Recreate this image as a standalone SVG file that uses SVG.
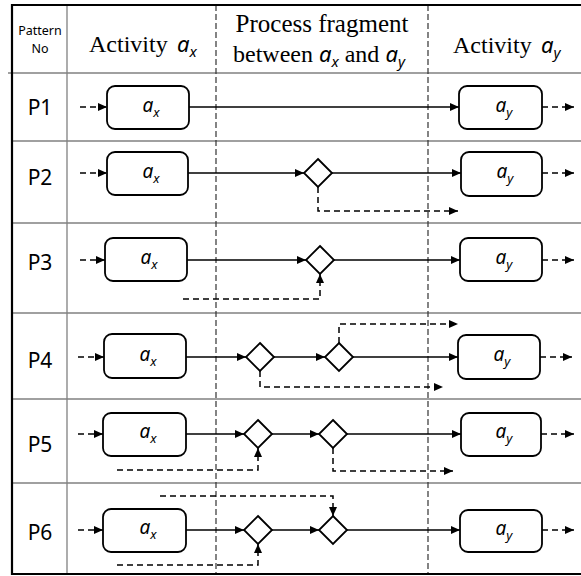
<svg xmlns="http://www.w3.org/2000/svg" width="581" height="576" viewBox="0 0 581 576">
<style>
.grid{stroke:#808080;stroke-width:1.3;fill:none}
.border{stroke:#000;stroke-width:2.2;fill:none}
.lane{stroke:#333;stroke-width:1.2;stroke-dasharray:6,3;fill:none}
.box{fill:#fff;stroke:#000;stroke-width:1.8}
.gw{fill:#fff;stroke:#000;stroke-width:1.8}
.flow{stroke:#000;stroke-width:1.5;fill:none}
.dflow{stroke:#000;stroke-width:1.5;fill:none;stroke-dasharray:6,4}
.ser{font-family:"Liberation Serif",serif;fill:#000}
.it{font-family:"Noto Sans","Open Sans",sans-serif;font-style:italic;fill:#000}
.lbl{font-family:"Noto Sans","Open Sans",sans-serif;fill:#000}
</style>
<defs>
<marker id="ah" markerUnits="userSpaceOnUse" markerWidth="9" markerHeight="8" refX="9" refY="4" orient="auto">
<path d="M0,0 L9,4 L0,8 z" fill="#000"/>
</marker>
</defs>
<rect width="581" height="576" fill="#fff"/>

<g id="table">
<line class="grid" x1="67" y1="5" x2="67" y2="574"/>
<line class="grid" x1="8" y1="73" x2="581" y2="73"/>
<line class="grid" x1="12" y1="141" x2="581" y2="141"/>
<line class="grid" x1="12" y1="223" x2="581" y2="223"/>
<line class="grid" x1="12" y1="313" x2="581" y2="313"/>
<line class="grid" x1="12" y1="399" x2="581" y2="399"/>
<line class="grid" x1="12" y1="483" x2="581" y2="483"/>
<line class="lane" x1="216" y1="5" x2="216" y2="574"/>
<line class="lane" x1="428" y1="5" x2="428" y2="574"/>
<line class="border" x1="12" y1="5" x2="581" y2="5"/>
<line class="border" x1="12" y1="574" x2="581" y2="574"/>
<line class="border" x1="12" y1="4" x2="12" y2="575"/>
</g>

<g id="header">
<text class="lbl" x="40" y="35" font-size="12.5" text-anchor="middle">Pattern</text>
<text class="lbl" x="40" y="53" font-size="12.5" text-anchor="middle">No</text>
<text class="ser" x="89" y="52" font-size="24">Activity</text>
<text class="it" x="177" y="52" font-size="22">a<tspan font-size="15" dy="5">x</tspan></text>
<text class="ser" x="322" y="32" font-size="25" text-anchor="middle">Process fragment</text>
<text x="233" y="62" font-size="24"><tspan class="ser">between </tspan><tspan class="it" font-size="22">a</tspan><tspan class="it" font-size="15" dy="5">x</tspan><tspan class="ser" dy="-5"> and </tspan><tspan class="it" font-size="22">a</tspan><tspan class="it" font-size="15" dy="5">y</tspan></text>
<text class="ser" x="453" y="53" font-size="24">Activity</text>
<text class="it" x="541" y="53" font-size="22">a<tspan font-size="15" dy="5">y</tspan></text>
</g>

<g id="row-labels" class="lbl" font-size="21" text-anchor="middle">
<text x="40" y="115">P1</text>
<text x="40" y="185">P2</text>
<text x="40" y="270">P3</text>
<text x="40" y="368">P4</text>
<text x="40" y="452">P5</text>
<text x="40" y="540">P6</text>
</g>

<g id="connectors">
<!-- P1 -->
<line class="dflow" x1="80" y1="107" x2="107" y2="107" marker-end="url(#ah)"/>
<line class="flow" x1="189" y1="107" x2="459" y2="107" marker-end="url(#ah)"/>
<line class="dflow" x1="542" y1="107" x2="574" y2="107" marker-end="url(#ah)"/>
<!-- P2 -->
<line class="dflow" x1="80" y1="173" x2="107" y2="173" marker-end="url(#ah)"/>
<line class="flow" x1="188" y1="173" x2="304" y2="173" marker-end="url(#ah)"/>
<line class="flow" x1="332" y1="173" x2="461" y2="173" marker-end="url(#ah)"/>
<polyline class="dflow" points="318,187 318,211 458,211" marker-end="url(#ah)"/>
<line class="dflow" x1="542" y1="173" x2="574" y2="173" marker-end="url(#ah)"/>
<!-- P3 -->
<line class="dflow" x1="80" y1="260" x2="105" y2="260" marker-end="url(#ah)"/>
<line class="flow" x1="187" y1="260" x2="306" y2="260" marker-end="url(#ah)"/>
<line class="flow" x1="334" y1="260" x2="460" y2="260" marker-end="url(#ah)"/>
<polyline class="dflow" points="183,299 320,299 320,274" marker-end="url(#ah)"/>
<line class="dflow" x1="542" y1="260" x2="574" y2="260" marker-end="url(#ah)"/>
<!-- P4 -->
<line class="dflow" x1="78" y1="357" x2="104" y2="357" marker-end="url(#ah)"/>
<line class="flow" x1="186" y1="357" x2="246" y2="357" marker-end="url(#ah)"/>
<line class="flow" x1="274" y1="357" x2="325" y2="357" marker-end="url(#ah)"/>
<line class="flow" x1="353" y1="357" x2="458" y2="357" marker-end="url(#ah)"/>
<polyline class="dflow" points="260,371 260,387 443,387" marker-end="url(#ah)"/>
<polyline class="dflow" points="339,343 339,324 458,324" marker-end="url(#ah)"/>
<line class="dflow" x1="540" y1="357" x2="572" y2="357" marker-end="url(#ah)"/>
<!-- P5 -->
<line class="dflow" x1="78" y1="434" x2="103" y2="434" marker-end="url(#ah)"/>
<line class="flow" x1="186" y1="434" x2="244" y2="434" marker-end="url(#ah)"/>
<line class="flow" x1="272" y1="434" x2="319" y2="434" marker-end="url(#ah)"/>
<line class="flow" x1="347" y1="434" x2="461" y2="434" marker-end="url(#ah)"/>
<polyline class="dflow" points="117,470 258,470 258,448" marker-end="url(#ah)"/>
<polyline class="dflow" points="333,448 333,471 453,471" marker-end="url(#ah)"/>
<line class="dflow" x1="541" y1="434" x2="574" y2="434" marker-end="url(#ah)"/>
<!-- P6 -->
<line class="dflow" x1="78" y1="530" x2="103" y2="530" marker-end="url(#ah)"/>
<line class="flow" x1="186" y1="530" x2="244" y2="530" marker-end="url(#ah)"/>
<line class="flow" x1="272" y1="530" x2="319" y2="530" marker-end="url(#ah)"/>
<line class="flow" x1="347" y1="530" x2="460" y2="530" marker-end="url(#ah)"/>
<polyline class="dflow" points="160,496 333,496 333,516" marker-end="url(#ah)"/>
<polyline class="dflow" points="117,565 258,565 258,544" marker-end="url(#ah)"/>
<line class="dflow" x1="542" y1="530" x2="574" y2="530" marker-end="url(#ah)"/>
</g>

<g id="p1-ax"><rect class="box" x="107" y="86" width="82" height="43" rx="8"/><text class="it" x="151" y="112" font-size="19" text-anchor="middle">a<tspan font-size="13" dy="5">x</tspan></text></g>
<g id="p1-ay"><rect class="box" x="459" y="86" width="83" height="43" rx="8"/><text class="it" x="504" y="112" font-size="19" text-anchor="middle">a<tspan font-size="13" dy="5">y</tspan></text></g>

<g id="p2-ax"><rect class="box" x="107" y="152" width="81" height="43" rx="8"/><text class="it" x="151" y="178" font-size="19" text-anchor="middle">a<tspan font-size="13" dy="5">x</tspan></text></g>
<g id="p2-gw"><polygon class="gw" points="318,159 332,173 318,187 304,173"/></g>
<g id="p2-ay"><rect class="box" x="461" y="152" width="81" height="44" rx="8"/><text class="it" x="505" y="178" font-size="19" text-anchor="middle">a<tspan font-size="13" dy="5">y</tspan></text></g>

<g id="p3-ax"><rect class="box" x="105" y="238" width="82" height="43" rx="8"/><text class="it" x="149" y="264" font-size="19" text-anchor="middle">a<tspan font-size="13" dy="5">x</tspan></text></g>
<g id="p3-gw"><polygon class="gw" points="320,246 334,260 320,274 306,260"/></g>
<g id="p3-ay"><rect class="box" x="460" y="238" width="82" height="43" rx="8"/><text class="it" x="504" y="264" font-size="19" text-anchor="middle">a<tspan font-size="13" dy="5">y</tspan></text></g>

<g id="p4-ax"><rect class="box" x="104" y="334" width="82" height="44" rx="8"/><text class="it" x="148" y="361" font-size="19" text-anchor="middle">a<tspan font-size="13" dy="5">x</tspan></text></g>
<g id="p4-gw1"><polygon class="gw" points="260,343 274,357 260,371 246,357"/></g>
<g id="p4-gw2"><polygon class="gw" points="339,343 353,357 339,371 325,357"/></g>
<g id="p4-ay"><rect class="box" x="458" y="335" width="82" height="44" rx="8"/><text class="it" x="502" y="361" font-size="19" text-anchor="middle">a<tspan font-size="13" dy="5">y</tspan></text></g>

<g id="p5-ax"><rect class="box" x="103" y="413" width="83" height="43" rx="8"/><text class="it" x="148" y="438" font-size="19" text-anchor="middle">a<tspan font-size="13" dy="5">x</tspan></text></g>
<g id="p5-gw1"><polygon class="gw" points="258,420 272,434 258,448 244,434"/></g>
<g id="p5-gw2"><polygon class="gw" points="333,420 347,434 333,448 319,434"/></g>
<g id="p5-ay"><rect class="box" x="461" y="413" width="80" height="43" rx="8"/><text class="it" x="504" y="438" font-size="19" text-anchor="middle">a<tspan font-size="13" dy="5">y</tspan></text></g>

<g id="p6-ax"><rect class="box" x="103" y="509" width="83" height="43" rx="8"/><text class="it" x="148" y="534" font-size="19" text-anchor="middle">a<tspan font-size="13" dy="5">x</tspan></text></g>
<g id="p6-gw1"><polygon class="gw" points="258,516 272,530 258,544 244,530"/></g>
<g id="p6-gw2"><polygon class="gw" points="333,516 347,530 333,544 319,530"/></g>
<g id="p6-ay"><rect class="box" x="460" y="510" width="82" height="42" rx="8"/><text class="it" x="504" y="535" font-size="19" text-anchor="middle">a<tspan font-size="13" dy="5">y</tspan></text></g>
</svg>
